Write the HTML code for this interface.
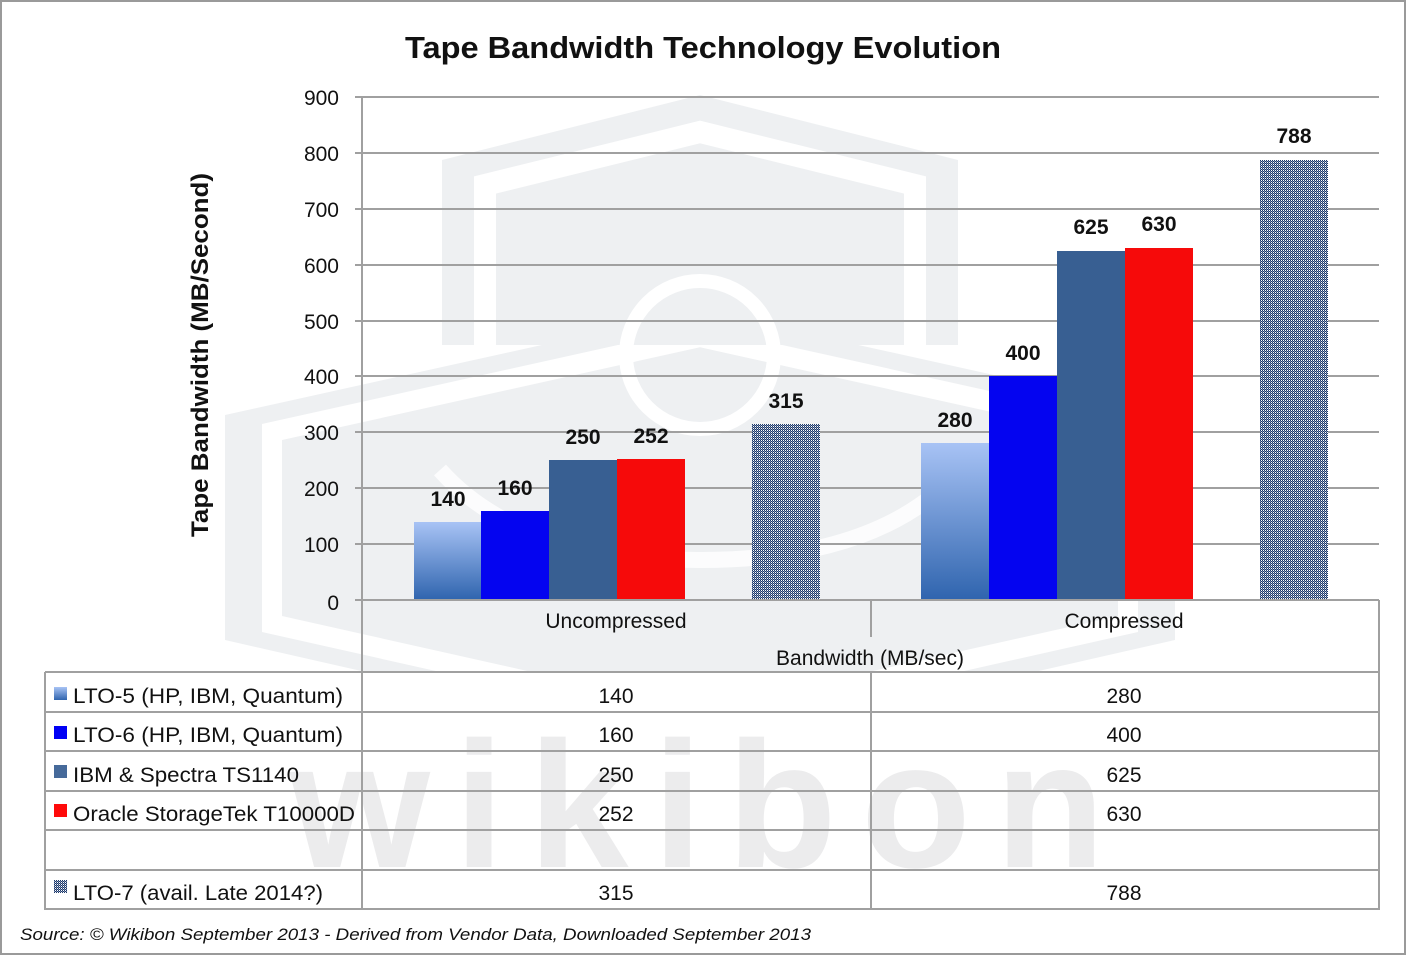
<!DOCTYPE html>
<html><head><meta charset="utf-8"><style>
html,body{margin:0;padding:0;background:#fff;}
svg{display:block;}
text{font-family:"Liberation Sans",sans-serif;fill:#111;}
</style></head><body>
<svg width="1407" height="957" viewBox="0 0 1407 957" xmlns="http://www.w3.org/2000/svg">
<defs>
<linearGradient id="g5" x1="0" y1="0" x2="0" y2="1">
<stop offset="0" stop-color="#a8c3f5"/><stop offset="1" stop-color="#2f64ae"/>
</linearGradient>
<pattern id="chk" width="2" height="2" patternUnits="userSpaceOnUse">
<rect width="2" height="2" fill="#1d396a"/><rect x="1" y="0" width="1" height="1" fill="#ffffff"/><rect x="0" y="1" width="1" height="1" fill="#7f90b0"/>
</pattern>
<clipPath id="clipTop"><rect x="0" y="0" width="1407" height="672"/></clipPath>
</defs>
<rect width="1407" height="957" fill="#fff"/>

<!-- watermark -->
<g clip-path="url(#clipTop)">
<polygon points="225,415 700,310 1175,415 1175,640 700,748 225,640" fill="#eef0f2"/>
<polygon points="272,432 700,337 1128,432 1128,624 700,720 272,624" fill="none" stroke="#fff" stroke-width="20"/>
<polygon points="442,345 442,160 700,95 958,160 958,345" fill="#eef0f2"/>
<polyline points="485,350 485,185 700,132 915,185 915,350" fill="none" stroke="#fff" stroke-width="22"/>
<circle cx="700" cy="355" r="74" fill="none" stroke="#fff" stroke-width="14"/>
<path d="M440,470 Q520,560 700,560 Q880,560 960,470" fill="none" stroke="#fff" stroke-width="16" opacity="0.8"/>
</g>
<text x="290" y="867" font-size="180" font-weight="bold" textLength="815" lengthAdjust="spacing" style="fill:#ececed">wikibon</text>

<!-- title -->
<text x="405" y="58" font-size="31" font-weight="bold" textLength="596" lengthAdjust="spacingAndGlyphs">Tape Bandwidth Technology Evolution</text>

<!-- y axis title -->
<text transform="translate(208,537) rotate(-90)" x="0" y="0" font-size="24" font-weight="bold" textLength="364" lengthAdjust="spacingAndGlyphs">Tape Bandwidth (MB/Second)</text>

<!-- gridlines -->
<g stroke="#a0a0a0" stroke-width="2">
<line x1="355" y1="97" x2="1379" y2="97"/>
<line x1="355" y1="153" x2="1379" y2="153"/>
<line x1="355" y1="209" x2="1379" y2="209"/>
<line x1="355" y1="265" x2="1379" y2="265"/>
<line x1="355" y1="321" x2="1379" y2="321"/>
<line x1="355" y1="376" x2="1379" y2="376"/>
<line x1="355" y1="432" x2="1379" y2="432"/>
<line x1="355" y1="488" x2="1379" y2="488"/>
<line x1="355" y1="544" x2="1379" y2="544"/>
</g>

<!-- y tick labels -->
<g font-size="21" text-anchor="end">
<text x="339" y="105">900</text>
<text x="339" y="161">800</text>
<text x="339" y="217">700</text>
<text x="339" y="273">600</text>
<text x="339" y="329">500</text>
<text x="339" y="384">400</text>
<text x="339" y="440">300</text>
<text x="339" y="496">200</text>
<text x="339" y="552">100</text>
<text x="339" y="610">0</text>
</g>

<!-- bars group 1 -->
<rect x="414" y="522" width="68" height="78" fill="url(#g5)"/>
<rect x="481" y="511" width="68" height="89" fill="#0404f0"/>
<rect x="549" y="460" width="68" height="140" fill="#385f92"/>
<rect x="617" y="459" width="68" height="141" fill="#f60a0a"/>
<rect x="752" y="424" width="68" height="176" fill="url(#chk)" shape-rendering="crispEdges"/>
<!-- bars group 2 -->
<rect x="921" y="443" width="68" height="157" fill="url(#g5)"/>
<rect x="989" y="376" width="68" height="224" fill="#0404f0"/>
<rect x="1057" y="251" width="68" height="349" fill="#385f92"/>
<rect x="1125" y="248" width="68" height="352" fill="#f60a0a"/>
<rect x="1260" y="160" width="68" height="440" fill="url(#chk)" shape-rendering="crispEdges"/>

<!-- data labels -->
<g font-size="21" font-weight="bold" text-anchor="middle">
<text x="448" y="506">140</text>
<text x="515" y="495">160</text>
<text x="583" y="444">250</text>
<text x="651" y="443">252</text>
<text x="786" y="408">315</text>
<text x="955" y="427">280</text>
<text x="1023" y="360">400</text>
<text x="1091" y="234">625</text>
<text x="1159" y="231">630</text>
<text x="1294" y="143">788</text>
</g>

<!-- axis & table lines -->
<g stroke="#a0a0a0" stroke-width="2">
<line x1="362" y1="97" x2="362" y2="910"/>
<line x1="355" y1="600" x2="1379" y2="600"/>
<line x1="871" y1="600" x2="871" y2="637"/>
<line x1="1379" y1="600" x2="1379" y2="910"/>
<line x1="45" y1="672" x2="1379" y2="672"/>
<line x1="45" y1="712" x2="1379" y2="712"/>
<line x1="45" y1="751" x2="1379" y2="751"/>
<line x1="45" y1="791" x2="1379" y2="791"/>
<line x1="45" y1="830" x2="1379" y2="830"/>
<line x1="45" y1="870" x2="1379" y2="870"/>
<line x1="45" y1="909" x2="1379" y2="909"/>
<line x1="45" y1="672" x2="45" y2="910"/>
<line x1="871" y1="672" x2="871" y2="910"/>
</g>

<!-- category labels -->
<g font-size="21" text-anchor="middle">
<text x="616" y="628">Uncompressed</text>
<text x="1124" y="628">Compressed</text>
<text x="870" y="665">Bandwidth (MB/sec)</text>
</g>

<!-- legend squares -->
<rect x="54" y="687" width="13" height="13" fill="url(#g5)"/>
<rect x="54" y="726" width="13" height="13" fill="#0000f5"/>
<rect x="54" y="765" width="13" height="13" fill="#466a9a"/>
<rect x="54" y="804" width="13" height="13" fill="#ff0a0a"/>
<rect x="54" y="880" width="13" height="13" fill="url(#chk)" shape-rendering="crispEdges"/>

<!-- table row labels -->
<g font-size="21">
<text x="73" y="703" textLength="270" lengthAdjust="spacingAndGlyphs">LTO-5 (HP, IBM, Quantum)</text>
<text x="73" y="742" textLength="270" lengthAdjust="spacingAndGlyphs">LTO-6 (HP, IBM, Quantum)</text>
<text x="73" y="782" textLength="226" lengthAdjust="spacingAndGlyphs">IBM &amp; Spectra TS1140</text>
<text x="73" y="821" textLength="282" lengthAdjust="spacingAndGlyphs">Oracle StorageTek T10000D</text>
<text x="73" y="900" textLength="250" lengthAdjust="spacingAndGlyphs">LTO-7 (avail. Late 2014?)</text>
</g>
<g font-size="21" text-anchor="middle">
<text x="616" y="703">140</text><text x="1124" y="703">280</text>
<text x="616" y="742">160</text><text x="1124" y="742">400</text>
<text x="616" y="782">250</text><text x="1124" y="782">625</text>
<text x="616" y="821">252</text><text x="1124" y="821">630</text>
<text x="616" y="900">315</text><text x="1124" y="900">788</text>
</g>

<!-- source -->
<text x="20" y="940" font-size="17" font-style="italic" textLength="791" lengthAdjust="spacingAndGlyphs">Source: © Wikibon September 2013 - Derived from Vendor Data, Downloaded September 2013</text>

<!-- outer border -->
<rect x="1" y="1" width="1404" height="953" fill="none" stroke="#9a9a9a" stroke-width="2"/>
</svg>
</body></html>
